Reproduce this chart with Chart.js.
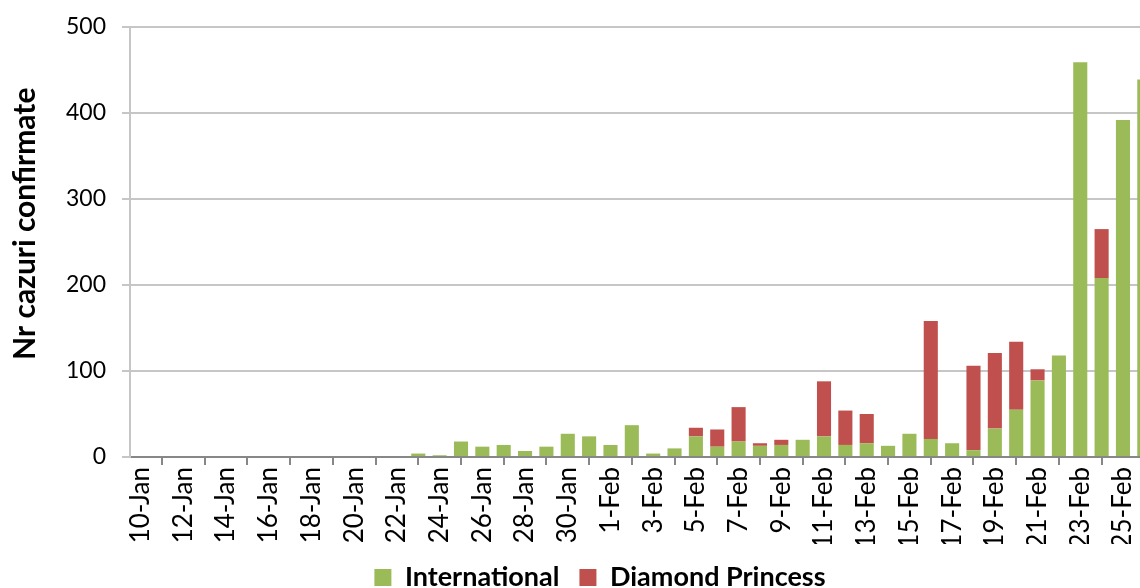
<!DOCTYPE html>
<html>
<head>
<meta charset="utf-8">
<script src="https://cdn.jsdelivr.net/npm/chart.js@4.4.0/dist/chart.umd.min.js"></script>
<style>
html, body { margin: 0; padding: 0; background: #fff; overflow: hidden; }
#wrap { position: relative; width: 1200px; height: 601px; }
</style>
</head>
<body>
<div id="wrap"><canvas id="chart"></canvas></div>
<script>
// categories (one per day)
var days = [
    '10-Jan', '11-Jan', '12-Jan', '13-Jan', '14-Jan', '15-Jan', '16-Jan', '17-Jan',
    '18-Jan', '19-Jan', '20-Jan', '21-Jan', '22-Jan', '23-Jan', '24-Jan', '25-Jan',
    '26-Jan', '27-Jan', '28-Jan', '29-Jan', '30-Jan', '31-Jan', '1-Feb', '2-Feb',
    '3-Feb', '4-Feb', '5-Feb', '6-Feb', '7-Feb', '8-Feb', '9-Feb', '10-Feb',
    '11-Feb', '12-Feb', '13-Feb', '14-Feb', '15-Feb', '16-Feb', '17-Feb', '18-Feb',
    '19-Feb', '20-Feb', '21-Feb', '22-Feb', '23-Feb', '24-Feb', '25-Feb', '26-Feb'
];

// series values
var international = [
    0, 0, 0, 0, 0, 0, 0, 0,
    0, 0, 0, 0, 0, 4, 2, 18,
    12, 14, 7, 12, 27, 24, 14, 37,
    4, 10, 24, 12, 18, 13, 14, 20,
    24, 14, 16, 13, 27, 21, 16, 8,
    33, 55, 89, 118, 459, 208, 392, 439
];
var diamondPrincess = [
    0, 0, 0, 0, 0, 0, 0, 0,
    0, 0, 0, 0, 0, 0, 0, 0,
    0, 0, 0, 0, 0, 0, 0, 0,
    0, 0, 10, 20, 40, 3, 6, 0,
    64, 40, 34, 0, 0, 137, 0, 98,
    88, 79, 13, 0, 0, 57, 0, 0
];

var yTicks = [0, 100, 200, 300, 400, 500];

var fontFamily = 'Lato, "Open Sans", sans-serif';

new Chart(document.getElementById('chart'), {
    type: 'bar',
    data: {
        labels: days,
        datasets: [{
            label: 'International',
            data: international,
            backgroundColor: '#9BBB59',
            borderWidth: 0,
            barPercentage: 0.66,
            categoryPercentage: 1.0
        }, {
            label: 'Diamond Princess',
            data: diamondPrincess,
            backgroundColor: '#C0504D',
            borderWidth: 0,
            barPercentage: 0.66,
            categoryPercentage: 1.0
        }]
    },
    options: {
        responsive: true,
        maintainAspectRatio: false,
        animation: false,
        layout: {
            padding: { top: 27, right: 45, bottom: 0, left: 45 }
        },
        plugins: {
            tooltip: { enabled: false },
            legend: {
                position: 'bottom',
                labels: {
                    color: '#000',
                    boxWidth: 17,
                    boxHeight: 17,
                    padding: 20,
                    font: { family: fontFamily, size: 27, weight: 'bold' }
                }
            }
        },
        scales: {
            x: {
                stacked: true,
                afterFit: function (scale) { scale.height = 87; },
                grid: {
                    drawOnChartArea: false,
                    drawTicks: true,
                    tickLength: 8,
                    color: '#878787',
                    lineWidth: 2,
                    offset: true
                },
                border: { color: '#878787', width: 2 },
                ticks: {
                    autoSkip: false,
                    minRotation: 90,
                    maxRotation: 90,
                    padding: 2,
                    color: '#000',
                    font: { family: fontFamily, size: 26 },
                    callback: function (value, index) {
                        return index % 2 === 0 ? days[index] : null;
                    }
                }
            },
            y: {
                stacked: true,
                min: 0,
                max: 500,
                afterFit: function (scale) {
                    scale.width = 85;
                    scale.paddingTop = 0;
                    scale.paddingBottom = 0;
                },
                afterBuildTicks: function (scale) {
                    scale.ticks = yTicks.map(function (v) { return { value: v }; });
                },
                grid: {
                    color: '#c6c6c6',
                    lineWidth: 2,
                    tickLength: 8
                },
                border: { color: '#c6c6c6', width: 2 },
                ticks: {
                    padding: 16,
                    color: '#000',
                    font: { family: fontFamily, size: 23 }
                },
                title: {
                    display: true,
                    text: '     Nr cazuri confirmate',
                    color: '#000',
                    padding: { top: -38, bottom: 0 },
                    font: { family: fontFamily, size: 30, weight: 'bold' }
                }
            }
        }
    }
});
</script>
</body>
</html>
